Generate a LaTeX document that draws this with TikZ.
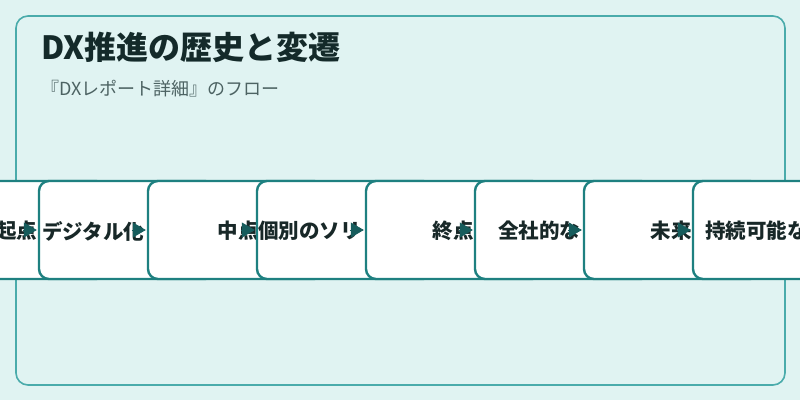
\documentclass[tikz,border=0pt]{standalone}
\usepackage{fontspec}
\setmainfont{Noto Sans CJK JP}
\usetikzlibrary{arrows.meta}
\definecolor{bg}{HTML}{E0F3F2}
\definecolor{frame}{HTML}{4AABAB}
\definecolor{boxline}{HTML}{1E8080}
\definecolor{arrowc}{HTML}{165C5C}
\definecolor{titlec}{HTML}{142A2A}
\definecolor{subc}{HTML}{4D6363}
\definecolor{txtc}{HTML}{182828}
\tikzset{
  stagebox/.style={draw=boxline, line width=2.4pt, fill=white, rounded corners=10pt,
    minimum width=176pt, minimum height=98pt, inner sep=0pt},
  stagelabel/.style={text=txtc, font=\fontsize{20.5}{24}\selectfont\bfseries, inner sep=0pt},
  flowarrow/.style={draw=arrowc, fill=arrowc, line width=0.8pt,
    -{Triangle[length=13pt,width=15pt]}},
}
\begin{document}
\begin{tikzpicture}[x=1pt,y=-1pt]
\useasboundingbox[fill=bg] (0,0) rectangle (800,400);
\draw[draw=frame, line width=1.6pt, fill=bg, rounded corners=12pt] (16,16) rectangle (785,385);
\node[anchor=west, text=titlec, font=\fontsize{32}{38}\selectfont\bfseries, inner sep=0pt] (title) at (41,47) {DX推進の歴史と変遷};
\node[anchor=west, text=subc, font=\fontsize{18}{22}\selectfont, inner sep=0pt] (sub) at (41,89) {『DXレポート詳細』のフロー};
% boxes and labels, drawn in order
\node[stagebox] (b1) at (18,230) {};
\node[stagelabel] (l1) at (17,231) {起点};
\node[stagebox] (b2) at (127,230) {};
\node[stagelabel, anchor=west] (l2) at (42,231) {デジタル化};
\node[stagebox] (b3) at (236,230) {};
\node[stagelabel] (l3) at (238,231) {中点};
\node[stagebox] (b4) at (345,230) {};
\node[stagelabel, anchor=west] (l4) at (258,231) {個別のソリ};
\node[stagebox] (b5) at (454,230) {};
\node[stagelabel] (l5) at (453,231) {終点};
\node[stagebox] (b6) at (563,230) {};
\node[stagelabel, anchor=west] (l6) at (498,231) {全社的な};
\node[stagebox] (b7) at (672,230) {};
\node[stagelabel] (l7) at (671,231) {未来};
\node[stagebox] (b8) at (781,230) {};
\node[stagelabel, anchor=west] (l8) at (705,231) {持続可能な};
% arrows
\foreach \i/\j in {1/2,2/3,3/4,4/5,5/6,6/7,7/8}{
  \coordinate (s\j) at ([xshift=-15pt]b\j.west);
  \draw[flowarrow] (s\j) -- ([xshift=-1pt]b\j.west);
}
\end{tikzpicture}
\end{document}
